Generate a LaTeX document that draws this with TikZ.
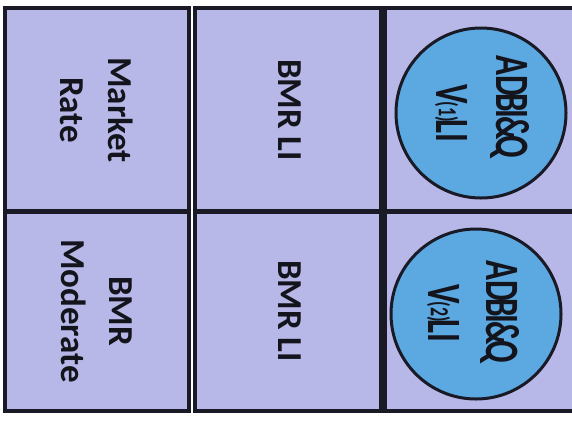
\documentclass[tikz,border=0pt]{standalone}
\usepackage{fontspec}
\setmainfont{Carlito}
\definecolor{lav}{HTML}{B7B8E8}
\definecolor{edge}{HTML}{1A1A26}
\definecolor{disc}{HTML}{5CA8E0}
\definecolor{ink}{HTML}{14141C}
\begin{document}
\begin{tikzpicture}[x=1pt,y=-1pt,
  cell/.style={draw=edge,line width=4pt,fill=lav,inner sep=0pt,outer sep=0pt,anchor=north west},
  lab/.style={rotate=-90,text=ink,font=\fontsize{35}{48}\selectfont\bfseries,align=center,inner sep=0pt},
  ring/.style={circle,draw=edge,line width=3pt,fill=disc,inner sep=0pt,minimum size=170pt},
  clab/.style={rotate=-90,text=ink,font=\fontsize{33}{40}\selectfont\bfseries,inner sep=0pt}]
\useasboundingbox (0,0) rectangle (572,424);
\fill[white] (0,0) rectangle (572,424);
\clip (0,0) rectangle (572,424);
% cells
\node[cell,minimum width=184pt,minimum height=203pt] (c11) at (5,8) {};
\node[cell,minimum width=184pt,minimum height=199pt] (c21) at (5,212) {};
\node[cell,minimum width=186pt,minimum height=203pt] (c12) at (195,8) {};
\node[cell,minimum width=186pt,minimum height=199pt] (c22) at (195,212) {};
\node[cell,minimum width=190pt,minimum height=203pt] (c13) at (385,8) {};
\node[cell,minimum width=190pt,minimum height=199pt] (c23) at (385,212) {};
% texts
\node[lab] (t11) at (97,110) {Market\\Rate};
\node[lab] (t21) at (97,311) {BMR\\Moderate};
\node[lab] (t12) at (290,110) {BMR LI};
\node[lab] (t22) at (290,311) {BMR LI};
% circles
\node[ring] (r1) at (481,113) {};
\node[ring] (r2) at (476,314) {};
\node[clab] (a1) at (510,107) {\scalebox{1}[1.45]{AD\kern-3ptB\kern-2ptI\kern-2pt\&\kern-4ptQ}};
\node[clab] (v1) at (451,113) {\scalebox{1}[1.45]{V\kern-2pt\raisebox{2pt}{\fontsize{18}{18}\selectfont(1)}\kern-3ptLI}};
\node[clab] (a2) at (500,312) {\scalebox{1}[1.45]{AD\kern-3ptB\kern-2ptI\kern-2pt\&\kern-4ptQ}};
\node[clab] (v2) at (443,313) {\scalebox{1}[1.45]{V\kern-2pt\raisebox{2pt}{\fontsize{18}{18}\selectfont(2)}\kern-3ptLI}};
\end{tikzpicture}
\end{document}
